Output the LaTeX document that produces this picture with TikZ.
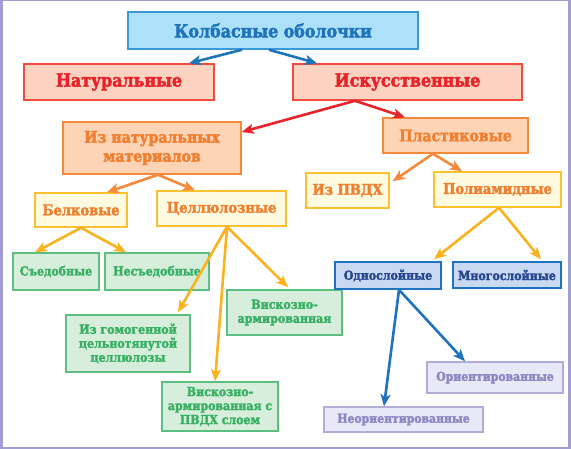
\documentclass[tikz,border=0pt]{standalone}
\usepackage{fontspec}
\setmainfont{DejaVu Serif}[FakeStretch=0.88,BoldFeatures={FakeBold=2.5}]
\usetikzlibrary{arrows.meta}

\definecolor{framecol}{HTML}{A39DD1}
\definecolor{topfill}{HTML}{ADE1F9}
\definecolor{topline}{HTML}{3A9AD9}
\definecolor{toptext}{HTML}{1D74BC}
\definecolor{redfill}{HTML}{FCD3C1}
\definecolor{redline}{HTML}{EF4B3F}
\definecolor{redtext}{HTML}{E8232A}
\definecolor{orfill}{HTML}{FDD4B5}
\definecolor{orline}{HTML}{F58A3C}
\definecolor{ortext}{HTML}{F07F30}
\definecolor{yefill}{HTML}{FFFBE0}
\definecolor{yeline}{HTML}{FBC12E}
\definecolor{yearrow}{HTML}{FBB21F}
\definecolor{grfill}{HTML}{D7EEDC}
\definecolor{grline}{HTML}{5CBF7F}
\definecolor{grtext}{HTML}{3AB064}
\definecolor{blfill}{HTML}{C8D9F1}
\definecolor{blline}{HTML}{1F72BD}
\definecolor{bltext}{HTML}{28478F}
\definecolor{lvfill}{HTML}{E9E8F7}
\definecolor{lvline}{HTML}{B2ACD9}
\definecolor{lvtext}{HTML}{8D86C3}

\begin{document}
\begin{tikzpicture}[x=1pt,y=-1pt,
    box/.style={draw,rectangle,inner sep=0pt,align=center,line width=1.5pt},
    topbox/.style={box,fill=topfill,draw=topline,text=toptext,font=\bfseries\fontsize{18}{20}\selectfont},
    redbox/.style={box,fill=redfill,draw=redline,text=redtext,font=\bfseries\fontsize{18}{20}\selectfont},
    orbox/.style={box,fill=orfill,draw=orline,text=ortext,font=\bfseries\fontsize{16}{19}\selectfont},
    yebox/.style={box,fill=yefill,draw=yeline,text=ortext,font=\bfseries\fontsize{14.8}{17}\selectfont},
    grbox/.style={box,fill=grfill,draw=grline,text=grtext,font=\bfseries\fontsize{12.5}{14}\selectfont},
    blbox/.style={box,fill=blfill,draw=blline,text=bltext,font=\bfseries\fontsize{12.5}{14}\selectfont},
    lvbox/.style={box,fill=lvfill,draw=lvline,text=lvtext,font=\bfseries\fontsize{12.3}{14}\selectfont},
    arr/.style={every edge/.style={draw=#1,line width=2.6pt,-{Stealth[length=12pt,width=10pt,inset=3pt]}}}]

  % frame
  \fill [framecol] (0,0) rectangle (571,449);
  \fill [white] (3,1.5) rectangle (568,446.5);

  \node [topbox,minimum width=290pt,minimum height=37pt] (casing) at (273,30.5) {Колбасные оболочки};

  \node [redbox,minimum width=190pt,minimum height=36pt] (natural) at (119,82) {Натуральные};
  \node [redbox,minimum width=229pt,minimum height=36pt] (artificial) at (407.5,82) {Искусственные};

  \node [orbox,minimum width=178pt,minimum height=52pt] (natmat) at (152,148) {Из натуральных\\материалов};
  \node [orbox,minimum width=145pt,minimum height=35pt] (plastic) at (455.5,135.5) {Пластиковые};

  \node [yebox,minimum width=92pt,minimum height=34pt] (protein) at (81,210) {Белковые};
  \node [yebox,minimum width=129pt,minimum height=35pt] (cellulose) at (221.5,208.5) {Целлюлозные};
  \node [yebox,minimum width=83pt,minimum height=35pt] (pvdc) at (347.5,190.5) {Из ПВДХ};
  \node [yebox,minimum width=127pt,minimum height=35pt] (polyamide) at (497.5,189.5) {Полиамидные};

  \node [grbox,minimum width=86pt,minimum height=37pt] (edible) at (56,271.5) {Съедобные};
  \node [grbox,minimum width=104pt,minimum height=37pt] (inedible) at (157,271.5) {Несъедобные};
  \node [grbox,minimum width=124pt,minimum height=57pt] (seamless) at (128,343.5) {Из гомогенной\\цельнотянутой\\целлюлозы};
  \node [grbox,minimum width=116pt,minimum height=49pt] (viscpvdc) at (220,406.5) {Вискозно-\\армированная с\\ПВДХ слоем};
  \node [grbox,minimum width=115pt,minimum height=45pt] (viscose) at (284.5,312.5) {Вискозно-\\армированная};

  \node [blbox,minimum width=106pt,minimum height=27pt] (single) at (388,275.5) {Однослойные};
  \node [blbox,minimum width=108pt,minimum height=26pt] (multi) at (507,275) {Многослойные};

  \node [lvbox,minimum width=136pt,minimum height=31pt] (oriented) at (495,377.5) {Ориентированные};
  \node [lvbox,minimum width=159pt,minimum height=25pt] (nonoriented) at (403.5,419.5) {Неориентированные};

  \path [arr=toptext]
    ([xshift=-31pt]casing.south) edge ([xshift=70pt]natural.north)
    ([xshift=-4pt]casing.south) edge ([xshift=-90.5pt]artificial.north);

  \path [arr=redtext]
    ([xshift=-52.5pt]artificial.south) edge ([yshift=16pt]natmat.east)
    ([xshift=-52.5pt]artificial.south) edge ([xshift=-50.5pt]plastic.north);

  \path [arr=orline]
    ([xshift=6pt]natmat.south) edge ([xshift=26pt]protein.north)
    ([xshift=6pt]natmat.south) edge ([xshift=-26.5pt]cellulose.north)
    ([xshift=-22.5pt]plastic.south) edge ([xshift=3pt,yshift=-9pt]pvdc.north east)
    ([xshift=-22.5pt]plastic.south) edge ([xshift=-35.5pt]polyamide.north);

  \path [arr=yearrow]
    (protein.south) edge ([xshift=-21pt]edible.north)
    (protein.south) edge ([xshift=-31pt]inedible.north)
    ([xshift=5.5pt]cellulose.south) edge ([xshift=50pt,yshift=2pt]seamless.north)
    ([xshift=5.5pt]cellulose.south) edge ([xshift=-5pt]viscpvdc.north)
    ([xshift=5.5pt]cellulose.south) edge ([xshift=3.5pt,yshift=2pt]viscose.north)
    ([xshift=1.5pt]polyamide.south) edge ([xshift=46pt,yshift=2pt]single.north)
    ([xshift=1.5pt]polyamide.south) edge ([xshift=34pt,yshift=2pt]multi.north);

  \path [arr=blline]
    ([xshift=11pt]single.south) edge ([xshift=-30pt]oriented.north)
    ([xshift=11pt]single.south) edge ([xshift=-19.5pt]nonoriented.north);

\end{tikzpicture}
\end{document}
